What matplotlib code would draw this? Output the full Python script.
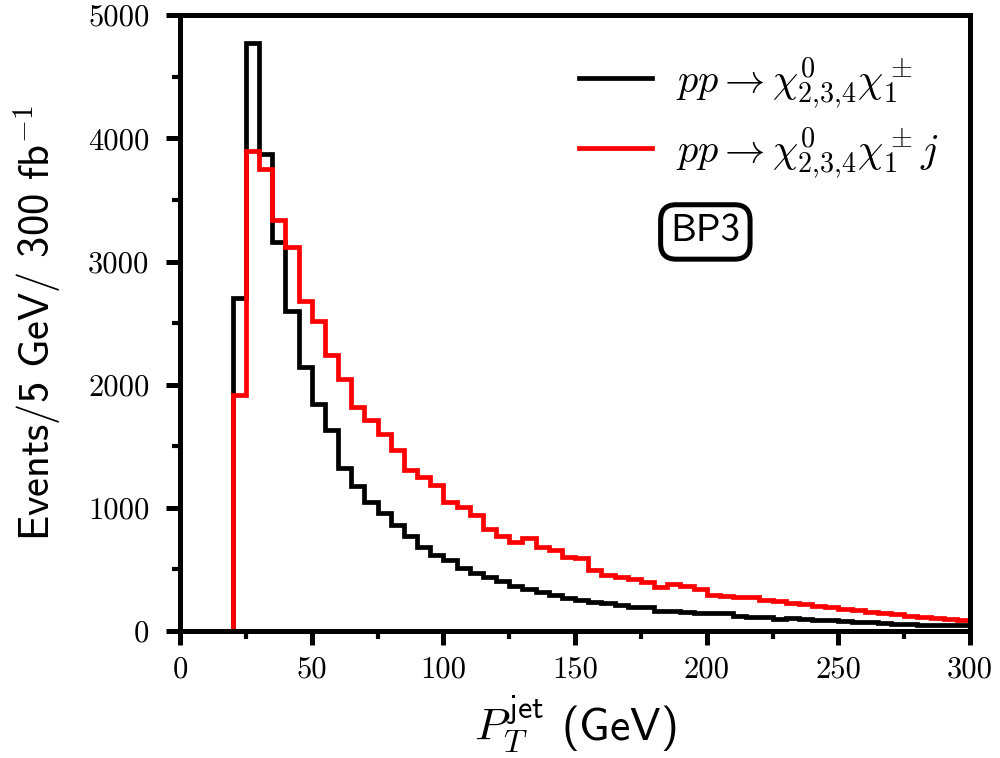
import numpy as np
import matplotlib
matplotlib.use("Agg")
import matplotlib.pyplot as plt
from matplotlib.ticker import MultipleLocator

plt.rcParams['mathtext.fontset'] = 'cm'
plt.rcParams['axes.unicode_minus'] = False

bin_width = 5
edges = np.arange(0, 300 + bin_width, bin_width)

# Events per 5 GeV bin, 0-300 GeV
black_vals = [0, 0, 0, 0, 2700, 4770, 3870, 3160, 2600, 2140,
              1840, 1630, 1320, 1180, 1050, 960, 860, 770, 685, 617,
              576, 509, 468, 441, 406, 365, 338, 319, 292, 271,
              252, 238, 225, 211, 198, 198, 165, 165, 152, 143,
              150, 145, 125, 118, 112, 100, 105, 98, 92, 88,
              82, 76, 70, 62, 58, 55, 52, 50, 48, 45]
red_vals = [0, 0, 0, 0, 1920, 3900, 3750, 3340, 3120, 2680,
            2520, 2240, 2050, 1820, 1710, 1600, 1470, 1310, 1253, 1185,
            1050, 1009, 942, 825, 774, 725, 752, 685, 658, 603,
            590, 495, 455, 436, 420, 400, 354, 382, 365, 338,
            290, 284, 275, 280, 250, 245, 225, 218, 205, 195,
            180, 168, 155, 145, 135, 125, 115, 108, 100, 88]

label_black = r"$pp \rightarrow \chi^0_{2{,}3{,}4}\chi^\pm_1$"
label_red = r"$pp \rightarrow \chi^0_{2{,}3{,}4}\chi^\pm_1 j$"

fig = plt.figure(figsize=(10, 7.58), dpi=100)
ax = fig.add_axes([0.18, 0.1675, 0.79, 0.8125])

ax.stairs(black_vals, edges, baseline=None, color='black', lw=3.4, label=label_black)
ax.stairs(red_vals, edges, baseline=None, color='#ff0000', lw=3.4, label=label_red)

ax.set_xlim(0, 300)
ax.set_ylim(0, 5000)
ax.xaxis.set_major_locator(MultipleLocator(50))
ax.xaxis.set_minor_locator(MultipleLocator(25))
ax.yaxis.set_major_locator(MultipleLocator(1000))
ax.yaxis.set_minor_locator(MultipleLocator(500))

for sp in ax.spines.values():
    sp.set_linewidth(3.6)
ax.tick_params(which='major', direction='out', length=10, width=3.6, top=False, right=False)
ax.tick_params(axis='y', which='major', pad=12)
ax.tick_params(axis='x', which='major', pad=8)
ax.tick_params(which='minor', direction='out', length=5.5, width=3.0, top=False, right=False)
for lab in ax.get_xticklabels() + ax.get_yticklabels():
    lab.set_fontfamily('cmr10')
    lab.set_fontsize(22)

ax.set_ylabel(r"Events/5 GeV/ 300 fb$^{-1}$", fontfamily='cmss10', fontsize=30.5)
ax.yaxis.set_label_coords(-0.148, 0.5)
ax.set_xlabel(r"$P_T^{\mathsf{jet}}$ (GeV)", fontfamily='cmss10', fontsize=33, labelpad=7)

leg = ax.legend(loc='upper right', frameon=False, fontsize=29, handlelength=1.8,
                handletextpad=0.6, labelspacing=0.35, borderaxespad=0.2,
                bbox_to_anchor=(0.99, 0.975))
for line in leg.get_lines():
    line.set_linewidth(3.4)

ax.text(0.665, 0.648, "BP3", transform=ax.transAxes, fontfamily='cmss10', fontsize=28,
        ha='center', va='center',
        bbox=dict(boxstyle='round,pad=0.25,rounding_size=0.4', fc='white', ec='black', lw=3.6))

fig.savefig("out.png", dpi=100)
